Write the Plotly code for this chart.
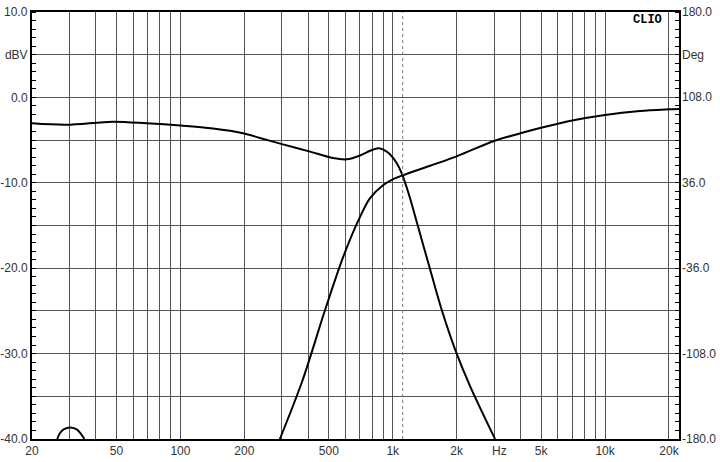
import math
import plotly.graph_objects as go

# ---- data ----
woofer_freq = [20, 29.1, 48.1, 69.4, 100, 142.5, 197, 237, 304, 408, 523, 607, 702,
               758, 810, 870, 937, 990, 1045, 1103, 1200, 1298, 1498, 1702, 1966, 2313, 3034]
woofer_db = [-3.03, -3.2, -2.84, -3.03, -3.3, -3.65, -4.2, -4.75, -5.5, -6.35, -7.1, -7.25, -6.8,
             -6.4, -6.1, -5.97, -6.35, -6.9, -7.7, -8.9, -11.6, -14.6, -20.1, -24.9, -29.5, -33.8, -40]

tweeter_freq = [294, 374, 480, 585, 689, 782, 903, 1000, 1122, 1500, 2000, 3000, 4000, 5000,
                7000, 10000, 14600, 20000, 22300]
tweeter_db = [-40, -33.3, -24.9, -18.65, -14.4, -11.8, -10.26, -9.6, -9.1, -8.0, -6.9, -5.1, -4.2, -3.55,
              -2.7, -2.05, -1.6, -1.4, -1.35]

hump_freq = [26.3, 27.1, 28.3, 30.4, 32.6, 34.0, 35.3]
hump_db = [-40, -39.3, -38.85, -38.65, -38.9, -39.4, -40]

marker_freq = 1114

x_grid = [m * d for d in (10, 100, 1000, 10000) for m in range(1, 10)]
x_grid = [v for v in x_grid if 20 <= v <= 20000]
x_label_map = {20: "20", 50: "50", 100: "100", 200: "200", 500: "500", 1000: "1k",
               2000: "2k", 5000: "5k", 10000: "10k", 20000: "20k"}
x_text = [x_label_map.get(v, "") for v in x_grid]
hz_label_freq = 3200

db_ticks = [10, 5, 0, -5, -10, -15, -20, -25, -30, -35, -40]
db_text = ["10.0", "dBV", "0.0", "", "-10.0", "", "-20.0", "", "-30.0", "", "-40.0"]
deg_ticks = [180, 144, 108, 72, 36, 0, -36, -72, -108, -144, -180]
deg_text = ["180.0", "Deg", "108.0", "", "36.0", "", "-36.0", "", "-108.0", "", "-180.0"]

# ---- figure ----
line_style = dict(color="black", width=2, shape="spline", smoothing=0.9)
fig = go.Figure()
fig.add_trace(go.Scatter(x=woofer_freq, y=woofer_db, mode="lines", line=line_style, showlegend=False))
fig.add_trace(go.Scatter(x=tweeter_freq, y=tweeter_db, mode="lines", line=line_style, showlegend=False))
fig.add_trace(go.Scatter(x=hump_freq, y=hump_db, mode="lines", line=line_style, showlegend=False))
fig.add_trace(go.Scatter(x=[], y=[], yaxis="y2", showlegend=False))

fig.add_shape(type="line", xref="x", yref="paper", x0=marker_freq, x1=marker_freq, y0=0, y1=1,
              line=dict(color="#777777", width=1, dash="dot"))

tick_font = dict(family="Liberation Sans, Arial, sans-serif", size=12, color="#333333")

annotations = [
    dict(text="Hz", x=math.log10(hz_label_freq), xref="x", y=0, yref="paper",
         yanchor="top", yshift=-3, showarrow=False, font=tick_font),
    dict(text="<b>CLIO</b>", x=0.952, xref="paper", y=0.982, yref="paper",
         xanchor="center", yanchor="middle", showarrow=False,
         font=dict(family="Liberation Mono, Courier New, monospace", size=12, color="black")),
]
# top-left label and the right-hand degree labels as text next to the axes
annotations.append(dict(text=db_text[0], x=0, xref="paper", xanchor="right", xshift=-2,
                        y=db_ticks[0], yref="y", yanchor="middle", showarrow=False, font=tick_font))
for v, t in zip(deg_ticks, deg_text):
    if t:
        annotations.append(dict(text=t, x=1, xref="paper", xanchor="left", xshift=1,
                                y=v, yref="y2", yanchor="middle", showarrow=False, font=tick_font))

fig.update_layout(
    width=720, height=462,
    margin=dict(l=32, r=41, t=12, b=23, autoexpand=False),
    paper_bgcolor="white", plot_bgcolor="white",
    xaxis=dict(type="log", range=[math.log10(20), math.log10(22300)],
               tickmode="array", tickvals=x_grid, ticktext=x_text, ticks="",
               showgrid=True, gridcolor="#555555", gridwidth=1, automargin=False,
               showline=True, linecolor="black", linewidth=2, mirror=True,
               tickfont=tick_font, zeroline=False),
    yaxis=dict(range=[-40, 10], tickmode="array", tickvals=db_ticks[1:], ticktext=db_text[1:], ticks="",
               showgrid=True, gridcolor="#555555", gridwidth=1, zeroline=False, automargin=False,
               showline=True, linecolor="black", linewidth=2, mirror=True,
               tickfont=tick_font,
               minor=dict(tickmode="linear", tick0=0, dtick=1, ticks="inside", ticklen=4,
                          tickcolor="black", showgrid=False)),
    yaxis2=dict(range=[-180, 180], overlaying="y", side="right", tickmode="array",
                tickvals=deg_ticks, ticktext=[""] * len(deg_ticks), ticks="", showgrid=False,
                zeroline=False, showline=False, showticklabels=True, automargin=False,
                minor=dict(tickmode="linear", tick0=0, dtick=7.2, ticks="inside", ticklen=4,
                           tickcolor="black", showgrid=False)),
    annotations=annotations,
)

fig.write_html("out.html", config={"displayModeBar": False},
               post_script="document.body.style.margin='0';document.body.style.overflow='hidden';")
